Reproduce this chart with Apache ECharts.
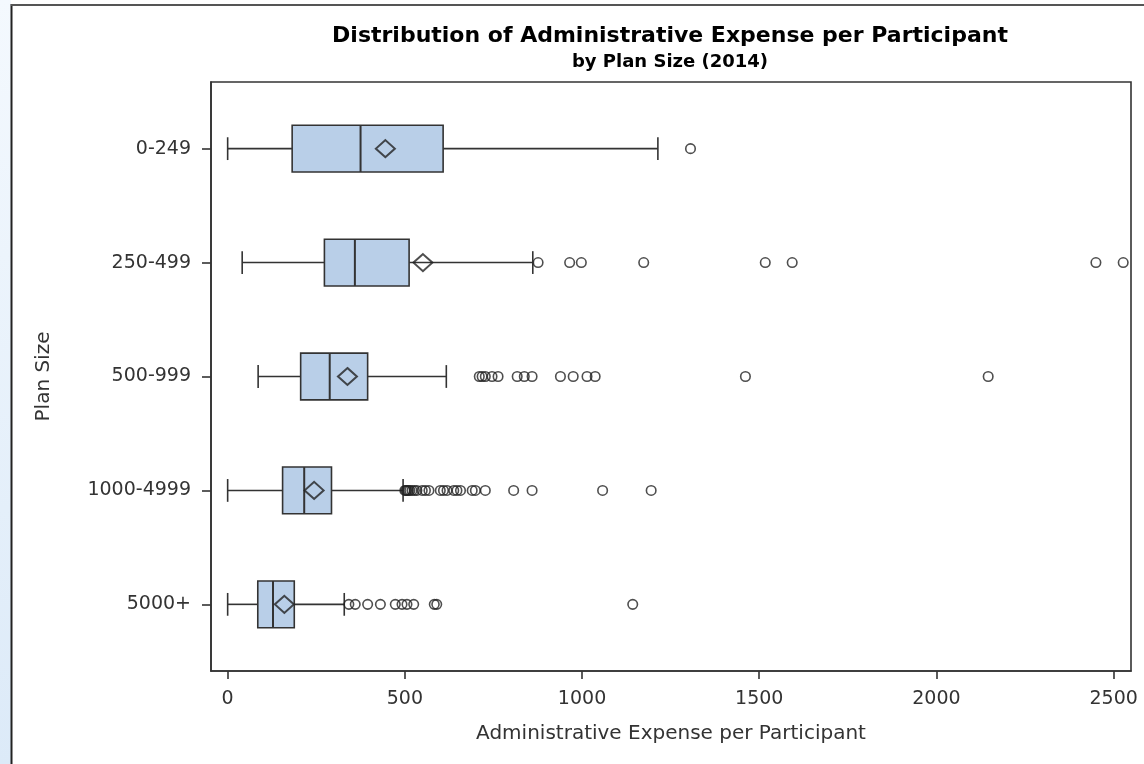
<!DOCTYPE html>
<html>
<head>
<meta charset="utf-8">
<script src="https://cdn.jsdelivr.net/npm/echarts@6/dist/echarts.min.js"></script>
<style>
  html, body { margin: 0; padding: 0; background: #ffffff; }
  #chart { width: 1144px; height: 764px; }
</style>
</head>
<body>
<div id="chart"></div>
<script>
// ---- data ----
const categories = ['0-249', '250-499', '500-999', '1000-4999', '5000+'];
const whiskerLow  = [0, 41, 86, 0, 0];
const q1Values    = [182, 273, 206, 155, 85];
const medians     = [375, 359, 288, 216, 128];
const q3Values    = [608, 512, 395, 293, 188];
const whiskerHigh = [1214, 861, 617, 495, 329];
const means       = [445, 551, 338, 244, 160];

const outliers0 = [1306];
const outliers1 = [876, 965, 998, 1174, 1517, 1593, 2450, 2527];
const outliers2 = [710, 718, 727, 746, 763, 817, 837, 859, 939, 975, 1014, 1037, 1461, 2146];
const outliers3 = [500, 503, 506, 510, 514, 520, 527, 534, 549, 558, 568, 600, 609, 619, 638, 647, 657, 690, 699, 727, 807, 859, 1058, 1195];
const outliers4 = [342, 360, 395, 431, 473, 492, 506, 525, 583, 590, 1143];
const outlierLists = [outliers0, outliers1, outliers2, outliers3, outliers4];

const xTicks = [0, 500, 1000, 1500, 2000, 2500];
const yTicks = [0, 1, 2, 3, 4];

// ---- build series data ----
const boxData = categories.map((c, i) => [i, whiskerLow[i], q1Values[i], medians[i], q3Values[i], whiskerHigh[i]]);
const meanData = categories.map((c, i) => [means[i], i]);
const outlierData = [];
outlierLists.forEach((list, i) => list.forEach(v => outlierData.push([v, i])));

const INK = '#333333';
const FONT = 'DejaVu Sans';

function renderBox(params, api) {
  const cat = api.value(0);
  const lo  = api.coord([api.value(1), cat]);
  const q1  = api.coord([api.value(2), cat]);
  const med = api.coord([api.value(3), cat]);
  const q3  = api.coord([api.value(4), cat]);
  const hi  = api.coord([api.value(5), cat]);
  const band = Math.abs(api.size([0, 1])[1]);
  const h = band * 0.41;
  const capH = band * 0.2;
  const y = lo[1];
  const ls = { stroke: INK, lineWidth: 1.6 };
  return {
    type: 'group',
    children: [
      { type: 'line', shape: { x1: lo[0], y1: y, x2: q1[0], y2: y }, style: ls },
      { type: 'line', shape: { x1: q3[0], y1: y, x2: hi[0], y2: y }, style: ls },
      { type: 'line', shape: { x1: lo[0], y1: y - capH / 2, x2: lo[0], y2: y + capH / 2 }, style: ls },
      { type: 'line', shape: { x1: hi[0], y1: y - capH / 2, x2: hi[0], y2: y + capH / 2 }, style: ls },
      { type: 'rect', shape: { x: q1[0], y: y - h / 2, width: q3[0] - q1[0], height: h },
        style: { fill: '#B9CFE8', stroke: INK, lineWidth: 1.6 } },
      { type: 'line', shape: { x1: med[0], y1: y - h / 2, x2: med[0], y2: y + h / 2 }, style: { stroke: INK, lineWidth: 2 } }
    ]
  };
}

const chart = echarts.init(document.getElementById('chart'), null, { renderer: 'canvas' });
chart.setOption({
  animation: false,
  backgroundColor: '#ffffff',
  title: [
    { text: 'Distribution of Administrative Expense per Participant', left: 670, top: 25, padding: 0,
      textAlign: 'center',
      textStyle: { fontFamily: FONT, fontWeight: 'bold', fontSize: 22, color: '#000' } },
    { text: 'by Plan Size (2014)', left: 670, top: 53, padding: 0, textAlign: 'center',
      textStyle: { fontFamily: FONT, fontWeight: 'bold', fontSize: 18, color: '#000' } }
  ],
  graphic: [
    { type: 'rect', left: 0, top: 0, z: -10, shape: { width: 11, height: 764 },
      style: { fill: new echarts.graphic.LinearGradient(0, 0, 0, 1, [
        { offset: 0, color: '#F4F9FE' }, { offset: 1, color: '#DCEAF8' }]) } },
    { type: 'line', z: -5, shape: { x1: 11.5, y1: 4, x2: 11.5, y2: 764 }, style: { stroke: '#222', lineWidth: 2 } },
    { type: 'line', z: -5, shape: { x1: 11, y1: 5, x2: 1144, y2: 5 }, style: { stroke: '#555', lineWidth: 2 } }
  ],
  grid: { left: 211, right: 13, top: 82, bottom: 93, show: true, borderColor: INK, borderWidth: 1.6,
          backgroundColor: 'transparent', containLabel: false },
  xAxis: {
    type: 'value', min: -47, max: 2549,
    name: 'Administrative Expense per Participant', nameLocation: 'middle', nameGap: 53,
    nameTextStyle: { fontFamily: FONT, fontSize: 20, color: INK },
    axisLine: { show: true, onZero: false, lineStyle: { color: INK, width: 1.6 } },
    axisTick: { show: true, length: 8, customValues: xTicks, lineStyle: { color: INK, width: 1.6 } },
    axisLabel: { customValues: xTicks, margin: 19, fontFamily: FONT, fontSize: 19, color: INK,
                 formatter: v => String(v) },
    splitLine: { show: false }
  },
  yAxis: {
    type: 'value', min: -0.585, max: 4.585, inverse: true,
    name: 'Plan Size', nameLocation: 'middle', nameGap: 157, nameRotate: 90,
    nameTextStyle: { fontFamily: FONT, fontSize: 20, color: INK },
    axisLine: { show: true, onZero: false, lineStyle: { color: INK, width: 1.6 } },
    axisTick: { show: true, length: 9, customValues: yTicks, lineStyle: { color: INK, width: 1.6 } },
    axisLabel: { customValues: yTicks, margin: 20, fontFamily: FONT, fontSize: 19, color: INK,
                 formatter: v => categories[Math.round(v)] },
    splitLine: { show: false }
  },
  series: [
    { type: 'custom', name: 'box', renderItem: renderBox, data: boxData, encode: { x: [1, 2, 3, 4, 5], y: 0 }, z: 2 },
    { type: 'scatter', name: 'mean', data: meanData, symbol: 'diamond', symbolSize: [19, 17], z: 4,
      itemStyle: { color: 'rgba(0,0,0,0)', borderColor: '#222', borderWidth: 2 } },
    { type: 'scatter', name: 'outliers', data: outlierData, symbol: 'circle', symbolSize: 9.5, z: 3,
      itemStyle: { color: 'rgba(0,0,0,0)', borderColor: '#222', borderWidth: 1.6 } }
  ]
});
</script>
</body>
</html>
